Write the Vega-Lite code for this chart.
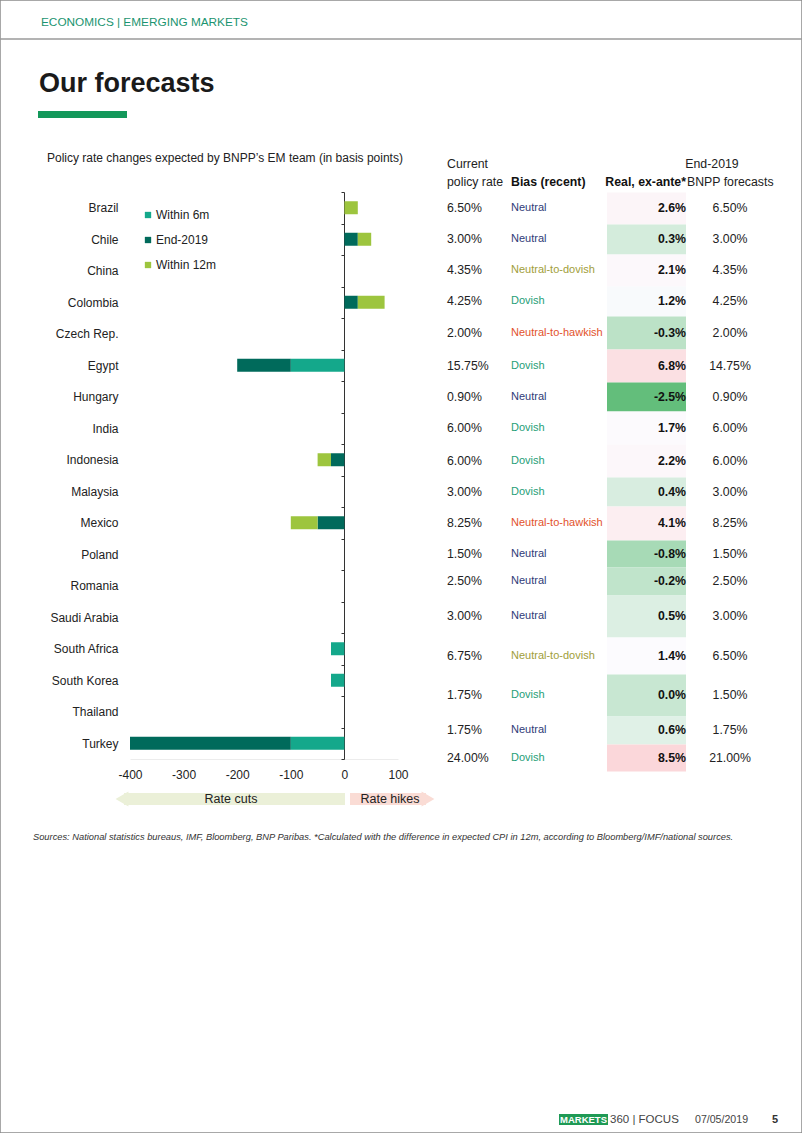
{
  "$schema": "https://vega.github.io/schema/vega-lite/v6.json",
  "width": 802,
  "height": 1133,
  "autosize": {"type": "none"},
  "padding": 0,
  "background": "white",
  "config": {
    "font": "Liberation Sans, Arial, Helvetica, sans-serif",
    "view": {"stroke": "#8c8c8c", "strokeWidth": 1.5},
    "locale": {"number": {"decimal": ".", "thousands": ",", "grouping": [3], "currency": ["$", ""], "minus": "-"}}
  },
  "datasets": {
    "bars": [
      {"country": "Brazil", "series": "Within 12m", "bp": 25},
      {"country": "Chile", "series": "End-2019", "bp": 25},
      {"country": "Chile", "series": "Within 12m", "bp": 25},
      {"country": "Colombia", "series": "End-2019", "bp": 25},
      {"country": "Colombia", "series": "Within 12m", "bp": 50},
      {"country": "Egypt", "series": "Within 6m", "bp": -100},
      {"country": "Egypt", "series": "End-2019", "bp": -100},
      {"country": "Indonesia", "series": "End-2019", "bp": -25},
      {"country": "Indonesia", "series": "Within 12m", "bp": -25},
      {"country": "Mexico", "series": "End-2019", "bp": -50},
      {"country": "Mexico", "series": "Within 12m", "bp": -50},
      {"country": "South Africa", "series": "Within 6m", "bp": -25},
      {"country": "South Korea", "series": "Within 6m", "bp": -25},
      {"country": "Turkey", "series": "Within 6m", "bp": -100},
      {"country": "Turkey", "series": "End-2019", "bp": -300}
    ],
    "seriesOrder": [
      {"series": "Within 6m", "stackRank": 1},
      {"series": "End-2019", "stackRank": 2},
      {"series": "Within 12m", "stackRank": 3}
    ],
    "table": [
      {"row": 0, "country": "Brazil", "rate": 0.065, "bias": "Neutral", "real": 0.026, "fcst": 0.065},
      {"row": 1, "country": "Chile", "rate": 0.03, "bias": "Neutral", "real": 0.003, "fcst": 0.03},
      {"row": 2, "country": "China", "rate": 0.0435, "bias": "Neutral-to-dovish", "real": 0.021, "fcst": 0.0435},
      {"row": 3, "country": "Colombia", "rate": 0.0425, "bias": "Dovish", "real": 0.012, "fcst": 0.0425},
      {"row": 4, "country": "Czech Rep.", "rate": 0.02, "bias": "Neutral-to-hawkish", "real": -0.003, "fcst": 0.02},
      {"row": 5, "country": "Egypt", "rate": 0.1575, "bias": "Dovish", "real": 0.068, "fcst": 0.1475},
      {"row": 6, "country": "Hungary", "rate": 0.009, "bias": "Neutral", "real": -0.025, "fcst": 0.009},
      {"row": 7, "country": "India", "rate": 0.06, "bias": "Dovish", "real": 0.017, "fcst": 0.06},
      {"row": 8, "country": "Indonesia", "rate": 0.06, "bias": "Dovish", "real": 0.022, "fcst": 0.06},
      {"row": 9, "country": "Malaysia", "rate": 0.03, "bias": "Dovish", "real": 0.004, "fcst": 0.03},
      {"row": 10, "country": "Mexico", "rate": 0.0825, "bias": "Neutral-to-hawkish", "real": 0.041, "fcst": 0.0825},
      {"row": 11, "country": "Poland", "rate": 0.015, "bias": "Neutral", "real": -0.008, "fcst": 0.015},
      {"row": 12, "country": "Romania", "rate": 0.025, "bias": "Neutral", "real": -0.002, "fcst": 0.025},
      {"row": 13, "country": "Saudi Arabia", "rate": 0.03, "bias": "Neutral", "real": 0.005, "fcst": 0.03},
      {"row": 14, "country": "South Africa", "rate": 0.0675, "bias": "Neutral-to-dovish", "real": 0.014, "fcst": 0.065},
      {"row": 15, "country": "South Korea", "rate": 0.0175, "bias": "Dovish", "real": 0.0, "fcst": 0.015},
      {"row": 16, "country": "Thailand", "rate": 0.0175, "bias": "Neutral", "real": 0.006, "fcst": 0.0175},
      {"row": 17, "country": "Turkey", "rate": 0.24, "bias": "Dovish", "real": 0.085, "fcst": 0.21}
    ]
  },
  "resolve": {
    "scale": {"x": "independent", "y": "independent", "color": "independent"},
    "axis": {"x": "independent", "y": "independent"},
    "legend": {"color": "independent"}
  },
  "layer": [
    {
      "data": {"name": "bars"},
      "transform": [
        {"lookup": "series", "from": {"data": {"name": "seriesOrder"}, "key": "series", "fields": ["stackRank"]}}
      ],
      "layer": [
        {
          "mark": {"type": "bar", "size": 13},
          "encoding": {
            "y": {
              "field": "country", "type": "nominal", "sort": null,
              "scale": {
                "domain": ["Brazil", "Chile", "China", "Colombia", "Czech Rep.", "Egypt", "Hungary", "India", "Indonesia", "Malaysia", "Mexico", "Poland", "Romania", "Saudi Arabia", "South Africa", "South Korea", "Thailand", "Turkey"],
                "range": [192, 759], "paddingInner": 0, "paddingOuter": 0
              },
              "axis": {
                "orient": "left", "offset": -344, "title": null, "grid": false,
                "domainColor": "#333333", "domainWidth": 1,
                "ticks": true, "tickBand": "extent", "tickSize": 3, "tickColor": "#333333",
                "labelPadding": 223, "labelFontSize": 12, "labelColor": "#222222", "labelAlign": "right", "labelLimit": 200
              }
            },
            "x": {
              "field": "bp", "type": "quantitative", "stack": "zero",
              "scale": {"domain": [-400, 100], "range": [130, 398], "nice": false, "zero": false},
              "axis": {
                "orient": "bottom", "offset": -374, "values": [-400, -300, -200, -100, 0, 100], "title": null,
                "ticks": false, "grid": false, "domainColor": "#ececec", "labelPadding": 10,
                "labelFontSize": 12, "labelColor": "#222222", "labelFlush": false
              }
            },
            "order": {"field": "stackRank", "type": "quantitative", "sort": "ascending"},
            "color": {
              "field": "series", "type": "nominal",
              "scale": {"domain": ["Within 6m", "End-2019", "Within 12m"], "range": ["#14a88b", "#006a5b", "#9dc53e"]},
              "legend": {
                "orient": "none", "legendX": 142, "legendY": 209, "title": null,
                "symbolType": "square", "symbolSize": 40, "symbolStrokeWidth": 0,
                "labelFontSize": 12, "labelColor": "#222222", "rowPadding": 13, "labelOffset": 2
              }
            }
          }
        }
      ]
    },
    {
      "data": {"name": "table"},
      "resolve": {"scale": {"color": "independent"}},
      "encoding": {
        "y": {
          "field": "row", "type": "quantitative", "bin": {"step": 1, "extent": [0, 18]},
          "scale": {
            "domain": [0, 1, 2, 3, 4, 5, 6, 7, 8, 9, 10, 11, 12, 13, 14, 15, 16, 17, 18],
            "range": [192, 224, 254, 286, 316, 349, 382, 411, 444, 477, 506, 540, 567, 595, 637, 674, 716, 744, 771],
            "zero": false, "nice": false
          },
          "axis": null
        }
      },
      "layer": [
        {
          "mark": {"type": "rect"},
          "encoding": {
            "x": {"datum": 607, "type": "quantitative", "scale": {"domain": [0, 802], "range": [0, 802], "zero": false, "nice": false}, "axis": null},
            "x2": {"datum": 686},
            "color": {
              "field": "real", "type": "quantitative",
              "scale": {"domain": [-0.025, 0.013, 0.3], "range": ["#63be7b", "#fcfcff", "#f8696b"], "interpolate": "rgb"},
              "legend": null
            }
          }
        },
        {
          "mark": {"type": "text", "align": "left", "baseline": "middle", "fontSize": 12.3, "color": "#222222"},
          "encoding": {
            "x": {"datum": 447, "type": "quantitative", "axis": null},
            "text": {"field": "rate", "type": "quantitative", "format": ".2%"}
          }
        },
        {
          "mark": {"type": "text", "align": "left", "baseline": "middle", "fontSize": 11},
          "encoding": {
            "x": {"datum": 511, "type": "quantitative", "axis": null},
            "text": {"field": "bias", "type": "nominal"},
            "color": {
              "field": "bias", "type": "nominal",
              "scale": {"domain": ["Neutral", "Neutral-to-dovish", "Dovish", "Neutral-to-hawkish"], "range": ["#2f3b78", "#9f9e3a", "#1f9e77", "#e2522b"]},
              "legend": null
            }
          }
        },
        {
          "mark": {"type": "text", "align": "right", "baseline": "middle", "fontSize": 12.3, "fontWeight": "bold", "color": "#111111"},
          "encoding": {
            "x": {"datum": 686, "type": "quantitative", "axis": null},
            "text": {"field": "real", "type": "quantitative", "format": ".1%"}
          }
        },
        {
          "mark": {"type": "text", "align": "center", "baseline": "middle", "fontSize": 12.3, "color": "#222222"},
          "encoding": {
            "x": {"datum": 730, "type": "quantitative", "axis": null},
            "text": {"field": "fcst", "type": "quantitative", "format": ".2%"}
          }
        }
      ]
    },
    {
      "data": {"values": [{}]},
      "layer": [
        {
          "mark": {"type": "rule", "color": "#9a9a9a", "strokeWidth": 1.5},
          "encoding": {
            "x": {"datum": 0, "type": "quantitative", "scale": {"domain": [0, 802], "range": [0, 802], "zero": false, "nice": false}, "axis": null},
            "x2": {"datum": 802},
            "y": {"datum": 39, "type": "quantitative", "scale": {"domain": [0, 1133], "range": [0, 1133], "zero": false, "nice": false}, "axis": null}
          }
        },
        {
          "mark": {"type": "text", "text": "ECONOMICS |  EMERGING MARKETS", "align": "left", "baseline": "middle", "fontSize": 11.8, "color": "#1b9470"},
          "encoding": {"x": {"datum": 41, "type": "quantitative", "axis": null}, "y": {"datum": 22, "type": "quantitative", "axis": null}}
        },
        {
          "mark": {"type": "text", "text": "Our forecasts", "align": "left", "baseline": "alphabetic", "fontSize": 27, "fontWeight": "bold", "color": "#1a1a1a"},
          "encoding": {"x": {"datum": 39, "type": "quantitative", "axis": null}, "y": {"datum": 92, "type": "quantitative", "axis": null}}
        },
        {
          "mark": {"type": "rect", "color": "#13985a"},
          "encoding": {
            "x": {"datum": 38, "type": "quantitative", "axis": null}, "x2": {"datum": 127},
            "y": {"datum": 111, "type": "quantitative", "axis": null}, "y2": {"datum": 118}
          }
        },
        {
          "mark": {"type": "text", "text": "Policy rate changes expected by BNPP’s EM team (in basis points)", "align": "left", "baseline": "middle", "fontSize": 12, "color": "#222222"},
          "encoding": {"x": {"datum": 47, "type": "quantitative", "axis": null}, "y": {"datum": 158, "type": "quantitative", "axis": null}}
        },
        {
          "mark": {"type": "text", "text": "Current", "align": "left", "baseline": "middle", "fontSize": 12.3, "color": "#222222"},
          "encoding": {"x": {"datum": 447, "type": "quantitative", "axis": null}, "y": {"datum": 164, "type": "quantitative", "axis": null}}
        },
        {
          "mark": {"type": "text", "text": "policy rate", "align": "left", "baseline": "middle", "fontSize": 12.3, "color": "#222222"},
          "encoding": {"x": {"datum": 447, "type": "quantitative", "axis": null}, "y": {"datum": 182, "type": "quantitative", "axis": null}}
        },
        {
          "mark": {"type": "text", "text": "Bias (recent)", "align": "left", "baseline": "middle", "fontSize": 12.3, "fontWeight": "bold", "color": "#111111"},
          "encoding": {"x": {"datum": 511, "type": "quantitative", "axis": null}, "y": {"datum": 182, "type": "quantitative", "axis": null}}
        },
        {
          "mark": {"type": "text", "text": "Real, ex-ante*", "align": "right", "baseline": "middle", "fontSize": 12.3, "fontWeight": "bold", "color": "#111111"},
          "encoding": {"x": {"datum": 686, "type": "quantitative", "axis": null}, "y": {"datum": 182, "type": "quantitative", "axis": null}}
        },
        {
          "mark": {"type": "text", "text": "End-2019", "align": "center", "baseline": "middle", "fontSize": 12.3, "color": "#222222"},
          "encoding": {"x": {"datum": 712, "type": "quantitative", "axis": null}, "y": {"datum": 164, "type": "quantitative", "axis": null}}
        },
        {
          "mark": {"type": "text", "text": "BNPP forecasts", "align": "left", "baseline": "middle", "fontSize": 12.3, "color": "#222222"},
          "encoding": {"x": {"datum": 687, "type": "quantitative", "axis": null}, "y": {"datum": 182, "type": "quantitative", "axis": null}}
        },
        {
          "mark": {"type": "rect", "color": "#ebf0d8"},
          "encoding": {
            "x": {"datum": 124, "type": "quantitative", "axis": null}, "x2": {"datum": 345},
            "y": {"datum": 793, "type": "quantitative", "axis": null}, "y2": {"datum": 805}
          }
        },
        {
          "mark": {"type": "point", "shape": "triangle-left", "filled": true, "size": 220, "color": "#ebf0d8", "opacity": 1},
          "encoding": {"x": {"datum": 122, "type": "quantitative", "axis": null}, "y": {"datum": 799, "type": "quantitative", "axis": null}}
        },
        {
          "mark": {"type": "rect", "color": "#fadcd5"},
          "encoding": {
            "x": {"datum": 350, "type": "quantitative", "axis": null}, "x2": {"datum": 426},
            "y": {"datum": 793, "type": "quantitative", "axis": null}, "y2": {"datum": 805}
          }
        },
        {
          "mark": {"type": "point", "shape": "triangle-right", "filled": true, "size": 220, "color": "#fadcd5", "opacity": 1},
          "encoding": {"x": {"datum": 428, "type": "quantitative", "axis": null}, "y": {"datum": 799, "type": "quantitative", "axis": null}}
        },
        {
          "mark": {"type": "text", "text": "Rate cuts", "align": "center", "baseline": "middle", "fontSize": 12.5, "color": "#222222"},
          "encoding": {"x": {"datum": 231, "type": "quantitative", "axis": null}, "y": {"datum": 799, "type": "quantitative", "axis": null}}
        },
        {
          "mark": {"type": "text", "text": "Rate hikes", "align": "center", "baseline": "middle", "fontSize": 12.5, "color": "#222222"},
          "encoding": {"x": {"datum": 390, "type": "quantitative", "axis": null}, "y": {"datum": 799, "type": "quantitative", "axis": null}}
        },
        {
          "mark": {"type": "text", "text": "Sources: National statistics bureaus, IMF, Bloomberg, BNP Paribas. *Calculated with the difference in expected CPI in 12m, according to Bloomberg/IMF/national sources.", "align": "left", "baseline": "middle", "fontSize": 9.3, "fontStyle": "italic", "color": "#333333"},
          "encoding": {"x": {"datum": 33, "type": "quantitative", "axis": null}, "y": {"datum": 837, "type": "quantitative", "axis": null}}
        },
        {
          "mark": {"type": "rect", "color": "#1f9a55"},
          "encoding": {
            "x": {"datum": 559, "type": "quantitative", "axis": null}, "x2": {"datum": 608},
            "y": {"datum": 1114, "type": "quantitative", "axis": null}, "y2": {"datum": 1125}
          }
        },
        {
          "mark": {"type": "text", "text": "MARKETS", "align": "center", "baseline": "middle", "fontSize": 9.5, "fontWeight": "bold", "color": "white"},
          "encoding": {"x": {"datum": 583.5, "type": "quantitative", "axis": null}, "y": {"datum": 1119.5, "type": "quantitative", "axis": null}}
        },
        {
          "mark": {"type": "text", "text": "360 | FOCUS", "align": "left", "baseline": "middle", "fontSize": 11.5, "color": "#444444"},
          "encoding": {"x": {"datum": 610, "type": "quantitative", "axis": null}, "y": {"datum": 1120, "type": "quantitative", "axis": null}}
        },
        {
          "mark": {"type": "text", "text": "07/05/2019", "align": "left", "baseline": "middle", "fontSize": 10.6, "color": "#444444"},
          "encoding": {"x": {"datum": 695, "type": "quantitative", "axis": null}, "y": {"datum": 1120, "type": "quantitative", "axis": null}}
        },
        {
          "mark": {"type": "text", "text": "5", "align": "left", "baseline": "middle", "fontSize": 11, "fontWeight": "bold", "color": "#333333"},
          "encoding": {"x": {"datum": 772, "type": "quantitative", "axis": null}, "y": {"datum": 1120, "type": "quantitative", "axis": null}}
        }
      ]
    }
  ]
}
